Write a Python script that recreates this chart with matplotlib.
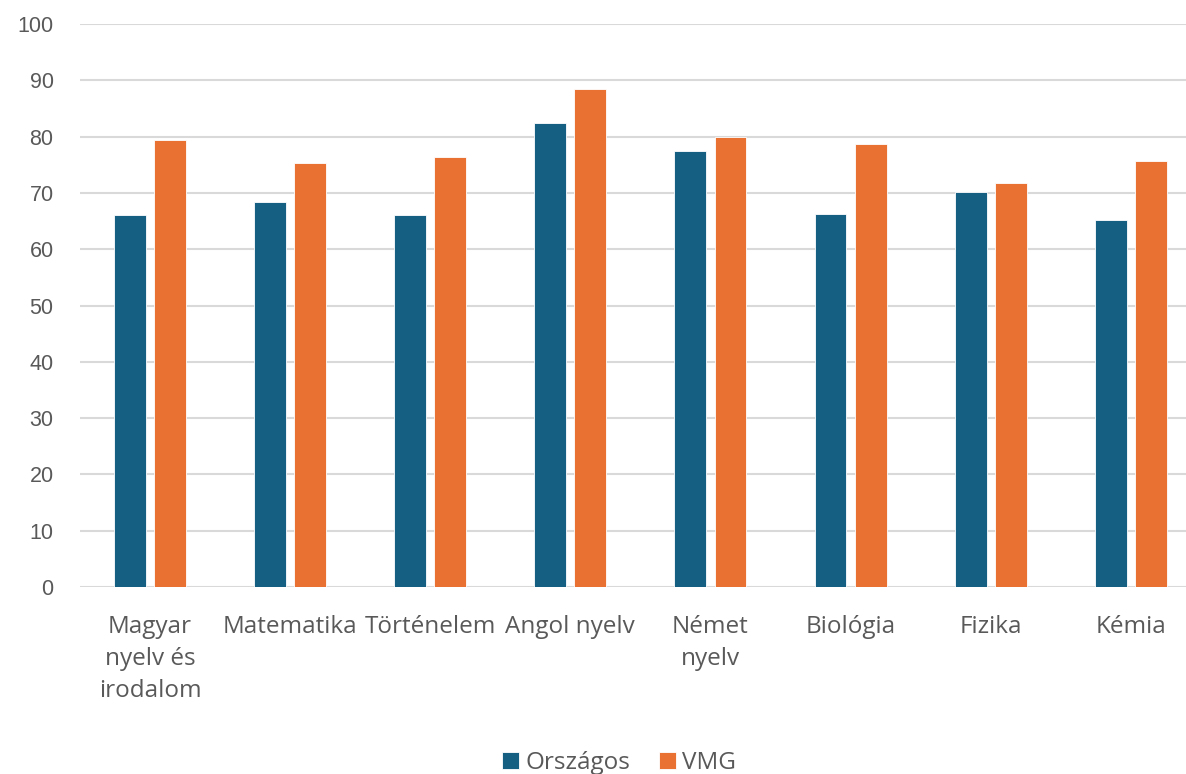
import numpy as np
import matplotlib
matplotlib.use("Agg")
import matplotlib.pyplot as plt

# values
categories = ["Magyar\nnyelv és\nirodalom", "Matematika", "Történelem", "Angol nyelv",
              "Német\nnyelv", "Biológia", "Fizika", "Kémia"]
orszagos = [66.0, 68.4, 66.0, 82.4, 77.5, 66.2, 70.2, 65.1]
vmg = [79.4, 75.3, 76.4, 88.5, 79.9, 78.6, 71.8, 75.6]
yticks = list(range(0, 101, 10))

blue = "#156082"
orange = "#E97132"
grey = "#595959"

fig = plt.figure(figsize=(11.86, 7.74), dpi=100)
ax = fig.add_axes([80 / 1186, 1 - 587 / 774, 1 - 80 / 1186, (587 - 24) / 774])

x = np.arange(len(categories))
w = 0.228
off = 0.143
ax.bar(x - off, orszagos, w, color=blue, edgecolor="white", linewidth=0.6,
       label="Országos", zorder=3)
ax.bar(x + off, vmg, w, color=orange, edgecolor="white", linewidth=0.6,
       label="VMG", zorder=3)

ax.set_ylim(0, 100)
ax.set_xlim(-0.5, -0.5 + (1186 - 80) / 140.1)
ax.set_yticks(yticks)
ax.yaxis.grid(True, color="#D9D9D9", linewidth=1.5, zorder=0)
ax.set_axisbelow(True)
for s in ax.spines.values():
    s.set_visible(False)
ax.tick_params(axis="both", length=0)
ax.tick_params(axis="y", labelsize=15.5, labelcolor=grey, pad=19)
for lab in ax.get_yticklabels():
    lab.set_family("Liberation Sans")

ax.set_xticks(x)
ax.set_xticklabels(categories, fontsize=17.5, color=grey, family="Open Sans",
                   linespacing=1.45)
ax.tick_params(axis="x", pad=20)

leg = fig.legend(loc="lower center", bbox_to_anchor=(0.522, -0.03), ncol=2,
                 frameon=False, handlelength=0.7, handleheight=0.7,
                 handletextpad=0.25, columnspacing=1.2,
                 prop={"family": "Open Sans", "size": 17.5})
for t in leg.get_texts():
    t.set_color(grey)

fig.savefig("out.png", dpi=100)
